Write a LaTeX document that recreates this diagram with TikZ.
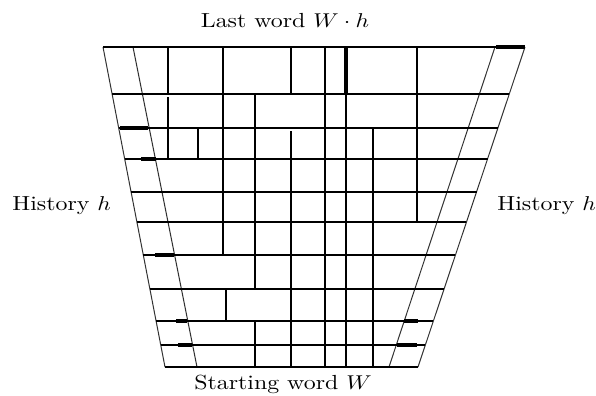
\documentclass[tikz,border=0pt]{standalone}
\usepackage{amsmath, amssymb}
\usepackage{xcolor}
\usepackage{tikz}
\usetikzlibrary{calc}

\newcommand{\widetext}[1]{\scalebox{1.17}[1]{#1}}

\begin{document}
\begin{tikzpicture}[
    x={(0.5pt,0)}, y={(0,-0.5pt)},
    cut/.style={line width=1.15pt, black},
    stub/.style={line width=1.55pt, black},
    slant/.style={line width=0.5pt, black!80},
    label/.style={inner sep=0pt, font=\fontsize{10.2}{12}\selectfont}
]
\useasboundingbox (0,0) rectangle (596,396);

% outer and inner slanted borders
\coordinate (tl) at (103,47);
\coordinate (bl) at (165,367);
\coordinate (tr) at (525,47);
\coordinate (br) at (418,367);
\draw[slant] (tl) -- (bl);
\draw[slant] (133,47) -- (197,367);
\draw[slant] (tr) -- (br);
\draw[slant] (495,47) -- (389,367);

% rows
\foreach \yy in {47,94,128,159,192,222,255,289,321,345,367} {
  \pgfmathsetmacro\xl{103+(\yy-47)/320*62}
  \pgfmathsetmacro\xr{525-(\yy-47)/320*107}
  \draw[cut] (\xl,\yy) -- (\xr,\yy);
}

% columns
\foreach \xx/\ya/\yb in {168/47/94, 168/97/159, 198/128/159, 223/47/255,
    255/94/289, 255/321/367, 226/289/321, 291/47/94, 291/131/367,
    325/47/367, 346/47/367, 373/128/367, 417/47/222} {
  \draw[cut] (\xx,\ya) -- (\xx,\yb);
}

% heavier pieces
\foreach \xa/\xb/\yy in {496/525/47, 120/148/128, 141/156/159, 155/174/255,
    176/187/321, 178/192/345, 404/418/321, 397/417/345} {
  \draw[stub] (\xa,\yy) -- (\xb,\yy);
}
\draw[stub] (346,47) -- (346,94);

\node[label, anchor=base] (lastword) at (285,27) {\widetext{Last word $W \cdot h$}};
\node[label, anchor=base] (startword) at (283,389) {\widetext{Starting word $W$}};
\node[label, anchor=base west] (histleft) at (12,211) {\widetext{History $h$}};
\node[label, anchor=base west] (histright) at (497,211) {\widetext{History $h$}};
\end{tikzpicture}
\end{document}
